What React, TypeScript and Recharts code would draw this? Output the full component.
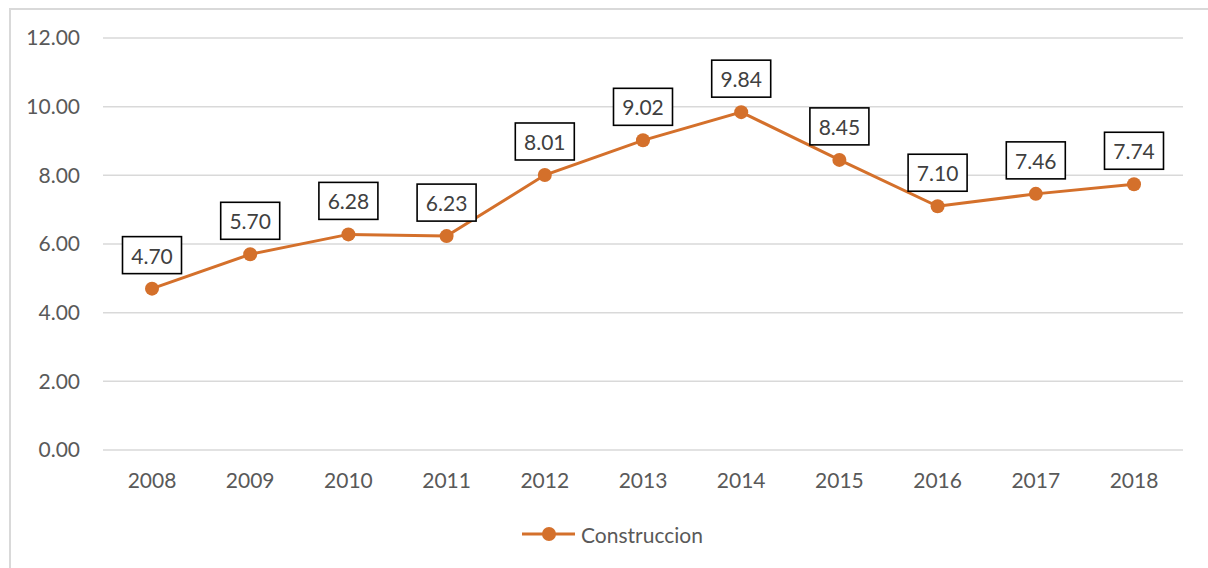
import React from 'react';
import { LineChart, Line, XAxis, YAxis, CartesianGrid, LabelList, Legend } from 'recharts';

const years = ['2008', '2009', '2010', '2011', '2012', '2013', '2014', '2015', '2016', '2017', '2018'];
const construccion = [4.70, 5.70, 6.28, 6.23, 8.01, 9.02, 9.84, 8.45, 7.10, 7.46, 7.74];
const yTicks = [0, 2, 4, 6, 8, 10, 12];
const seriesName = 'Construccion';

const data = years.map((y, i) => ({ year: y, value: construccion[i] }));

const FONT = 'Lato, "Open Sans", sans-serif';
const ORANGE = '#d4702b';

const DataLabel = (props: any) => {
  const { x, y, value } = props;
  const w = 59;
  const h = 37;
  return (
    <g>
      <rect x={x - w / 2} y={y - 52} width={w} height={h} fill="#ffffff" stroke="#000000" strokeWidth={1.6} />
      <text x={x} y={y - 33.5} textAnchor="middle" dominantBaseline="central" fontFamily={FONT} fontSize={21} fill="#404040">
        {Number(value).toFixed(2)}
      </text>
    </g>
  );
};

const LegendContent = () => (
  <svg width={1208} height={40}>
    <line x1={522} y1={19} x2={575} y2={19} stroke={ORANGE} strokeWidth={3} />
    <circle cx={549} cy={19} r={7} fill={ORANGE} />
    <text x={581} y={19} dominantBaseline="central" fontFamily={FONT} fontSize={21} fill="#595959">
      {seriesName}
    </text>
  </svg>
);

export default function App() {
  return (
    <div style={{ position: 'absolute', left: 0, top: 0, width: 1208, height: 568, background: '#fff', overflow: 'hidden' }}>
      <div
        style={{
          position: 'absolute',
          left: 9,
          top: 8,
          width: 1199,
          height: 560,
          borderTop: '2px solid #d9d9d9',
          borderLeft: '2px solid #d9d9d9',
          boxSizing: 'border-box',
        }}
      />
      <div style={{ position: 'absolute', left: 0, top: 0 }}>
        <LineChart width={1208} height={568} data={data} margin={{ top: 38, right: 25, bottom: 88, left: 0 }}>
          <CartesianGrid vertical={false} stroke="#d9d9d9" strokeWidth={1.5} />
          <XAxis
            dataKey="year"
            height={30}
            axisLine={false}
            tickLine={false}
            tickSize={0}
            tickMargin={23}
            padding={{ left: 49, right: 49 }}
            tick={{ fontFamily: FONT, fontSize: 21, fill: '#595959' }}
          />
          <YAxis
            width={103}
            domain={[0, 12]}
            ticks={yTicks}
            axisLine={false}
            tickLine={false}
            tickSize={0}
            tickMargin={23}
            tickFormatter={(v: number) => v.toFixed(2)}
            tick={{ fontFamily: FONT, fontSize: 21, fill: '#595959' }}
          />
          <Legend
            verticalAlign="middle"
            align="center"
            layout="horizontal"
            content={<LegendContent />}
            wrapperStyle={{ position: 'absolute', left: 0, top: 515, width: 1208, height: 40 }}
          />
          <Line
            type="linear"
            dataKey="value"
            name={seriesName}
            stroke={ORANGE}
            strokeWidth={3}
            dot={{ r: 7, fill: ORANGE, stroke: 'none' }}
            activeDot={false}
            isAnimationActive={false}
          >
            <LabelList dataKey="value" content={<DataLabel />} />
          </Line>
        </LineChart>
      </div>
    </div>
  );
}
